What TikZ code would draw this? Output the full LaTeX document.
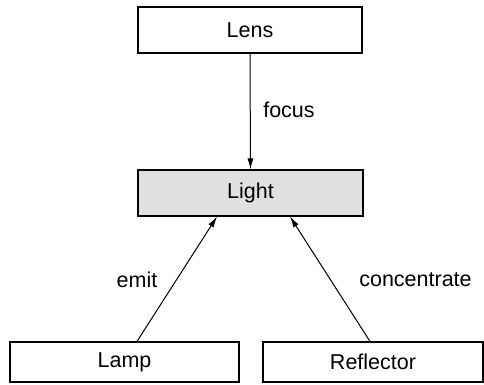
\documentclass[tikz,border=0pt]{standalone}
\usepackage{fontspec}
\setmainfont{Liberation Sans}
\usetikzlibrary{arrows.meta}
\begin{document}
\begin{tikzpicture}[x=1pt,y=-1pt,
  box/.style={draw=black,line width=1.2pt,inner sep=0pt,font=\fontsize{21.5}{25}\selectfont},
  conn/.style={draw=black,line width=1pt,-{Latex[length=11pt,width=6pt]}},
  lbl/.style={font=\fontsize{21.5}{25}\selectfont,inner sep=0pt}]
\useasboundingbox (0,0) rectangle (484,385);
\node[box,minimum width=224pt,minimum height=46pt] (Lens) at (250,30) {Lens};
\node[box,fill={rgb,255:red,224;green,224;blue,224},minimum width=225pt,minimum height=46pt] (Light) at (250.5,193) {Light};
\node[box,minimum width=229pt,minimum height=40pt] (Lamp) at (124.5,362) {Lamp};
\node[box,minimum width=220pt,minimum height=40pt] (Reflector) at (373,362) {Reflector};
\draw[conn] (Lens.south) -- (Light.north);
\draw[conn] ([xshift=12.5pt]Lamp.north) -- ([xshift=-33.5pt]Light.south);
\draw[conn] ([xshift=-3pt]Reflector.north) -- ([xshift=39.5pt]Light.south);
\node[lbl] (focuslbl) at (289,110) {focus};
\node[lbl] (emitlbl) at (137,280) {emit};
\node[lbl] (conclbl) at (415.5,280) {concentrate};
\end{tikzpicture}
\end{document}
